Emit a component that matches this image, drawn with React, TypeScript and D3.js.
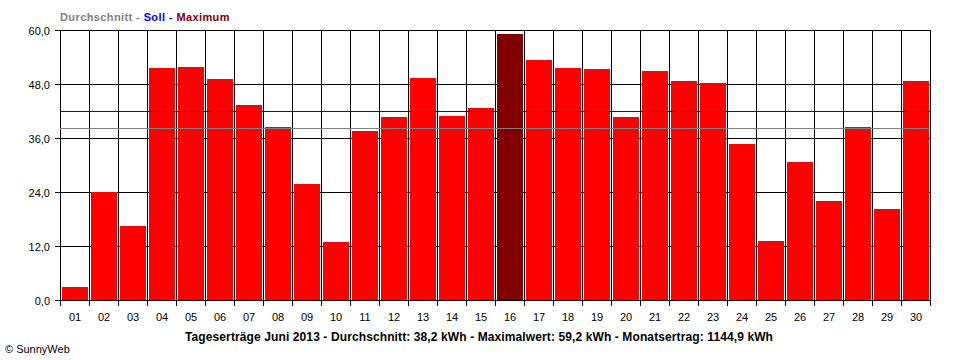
import { useEffect, useRef } from "react";
import * as d3 from "d3";

const DAYS = ["01", "02", "03", "04", "05", "06", "07", "08", "09", "10", "11", "12", "13", "14", "15",
  "16", "17", "18", "19", "20", "21", "22", "23", "24", "25", "26", "27", "28", "29", "30"];
const YIELD_KWH = [3.0, 23.9, 16.5, 51.6, 51.8, 49.2, 43.4, 38.5, 25.8, 13.0, 37.6, 40.7, 49.4, 40.9, 42.7,
  59.2, 53.4, 51.6, 51.4, 40.7, 50.9, 48.7, 48.3, 34.7, 13.2, 30.7, 22.1, 38.5, 20.3, 48.7];
const Y_TICKS = [0, 12, 24, 36, 48, 60];
const AVERAGE = 38.2;
const TARGET = 42.0;
const CAPTION = "Tageserträge Juni 2013 - Durchschnitt: 38,2 kWh - Maximalwert: 59,2 kWh - Monatsertrag: 1144,9 kWh";

const FONT = "'Liberation Sans', Arial, sans-serif";

export default function App() {
  const ref = useRef<SVGSVGElement>(null);

  useEffect(() => {
    const el = ref.current;
    if (!el) return;
    const W = 960, H = 360, M = { top: 30, right: 30, bottom: 60, left: 60 };
    const svg = d3.select(el).attr("width", W).attr("height", H).attr("viewBox", `0 0 ${W} ${H}`);
    svg.selectAll("*").remove();
    svg.append("rect").attr("width", W).attr("height", H).attr("fill", "#fff");

    const data = DAYS.map((d, i) => ({ day: d, v: YIELD_KWH[i] }));
    const maxV = d3.max(data, (d) => d.v) ?? 0;
    const x = d3.scaleBand<string>().domain(DAYS).range([M.left, W - M.right]).padding(0);
    const y = d3.scaleLinear().domain([0, 60]).range([H - M.bottom, M.top]);
    const x0 = M.left, x1 = W - M.right, y0 = y(0), y1 = y(60);

    const g = svg.append("g").attr("shape-rendering", "crispEdges");

    // grid
    g.selectAll("line.hgrid").data(Y_TICKS).join("line")
      .attr("x1", x0 - 5).attr("x2", x1).attr("y1", (d) => y(d) + 0.5).attr("y2", (d) => y(d) + 0.5)
      .attr("stroke", "#000").attr("stroke-width", 1);
    const bounds = [...DAYS.map((d) => x(d) ?? 0), x1];
    g.selectAll("line.vgrid").data(bounds).join("line")
      .attr("x1", (d) => d + 0.5).attr("x2", (d) => d + 0.5).attr("y1", y1).attr("y2", y0 + 6)
      .attr("stroke", "#000").attr("stroke-width", 1);

    // bars
    g.selectAll("rect.bar").data(data).join("rect")
      .attr("x", (d) => (x(d.day) ?? 0) + 2).attr("width", x.bandwidth() - 3)
      .attr("y", (d) => y(d.v)).attr("height", (d) => y0 - y(d.v))
      .attr("fill", (d) => (d.v === maxV ? "#800000" : "#FF0000"));

    // target and average
    g.append("line").attr("x1", x0).attr("x2", x1).attr("y1", Math.round(y(TARGET)) + 0.5).attr("y2", Math.round(y(TARGET)) + 0.5)
      .attr("stroke", "#0000FF").attr("stroke-width", 1);
    g.append("line").attr("x1", x0).attr("x2", x1).attr("y1", Math.round(y(AVERAGE)) + 0.5).attr("y2", Math.round(y(AVERAGE)) + 0.5)
      .attr("stroke", "#808080").attr("stroke-width", 1);

    // axis frame
    g.append("line").attr("x1", x0).attr("x2", x1 + 1).attr("y1", y0 + 0.5).attr("y2", y0 + 0.5).attr("stroke", "#000");

    // y labels
    svg.append("g").selectAll("text").data(Y_TICKS).join("text")
      .attr("x", x0 - 10).attr("y", (d) => y(d) + 4.5).attr("text-anchor", "end")
      .attr("font-family", FONT).attr("font-size", 11).attr("fill", "#000")
      .text((d) => d.toFixed(1).replace(".", ","));

    // x labels
    svg.append("g").selectAll("text").data(DAYS).join("text")
      .attr("x", (d) => (x(d) ?? 0) + x.bandwidth() / 2 + 0.5).attr("y", y0 + 20.5).attr("text-anchor", "middle")
      .attr("font-family", FONT).attr("font-size", 11).attr("fill", "#000").text((d) => d);

    // legend title
    const t = svg.append("text").attr("x", x0).attr("y", 20.5).attr("font-family", FONT).attr("font-size", 11)
      .attr("font-weight", "bold").attr("letter-spacing", 0.4);
    t.append("tspan").attr("fill", "#808080").text("Durchschnitt - ");
    t.append("tspan").attr("fill", "#0000FF").text("Soll - ");
    t.append("tspan").attr("fill", "#800000").text("Maximum");

    svg.append("text").attr("x", 185).attr("y", 341).attr("font-family", FONT).attr("font-size", 12)
      .attr("font-weight", "bold").attr("letter-spacing", 0.11).attr("fill", "#000").text(CAPTION);

    svg.append("text").attr("x", 5).attr("y", 353).attr("font-family", FONT).attr("font-size", 11)
      .attr("fill", "#000").text("© SunnyWeb");
  }, []);

  return <svg ref={ref} role="img" aria-label="Tageserträge Juni 2013" style={{ position: "absolute", left: 0, top: 0 }} />;
}
